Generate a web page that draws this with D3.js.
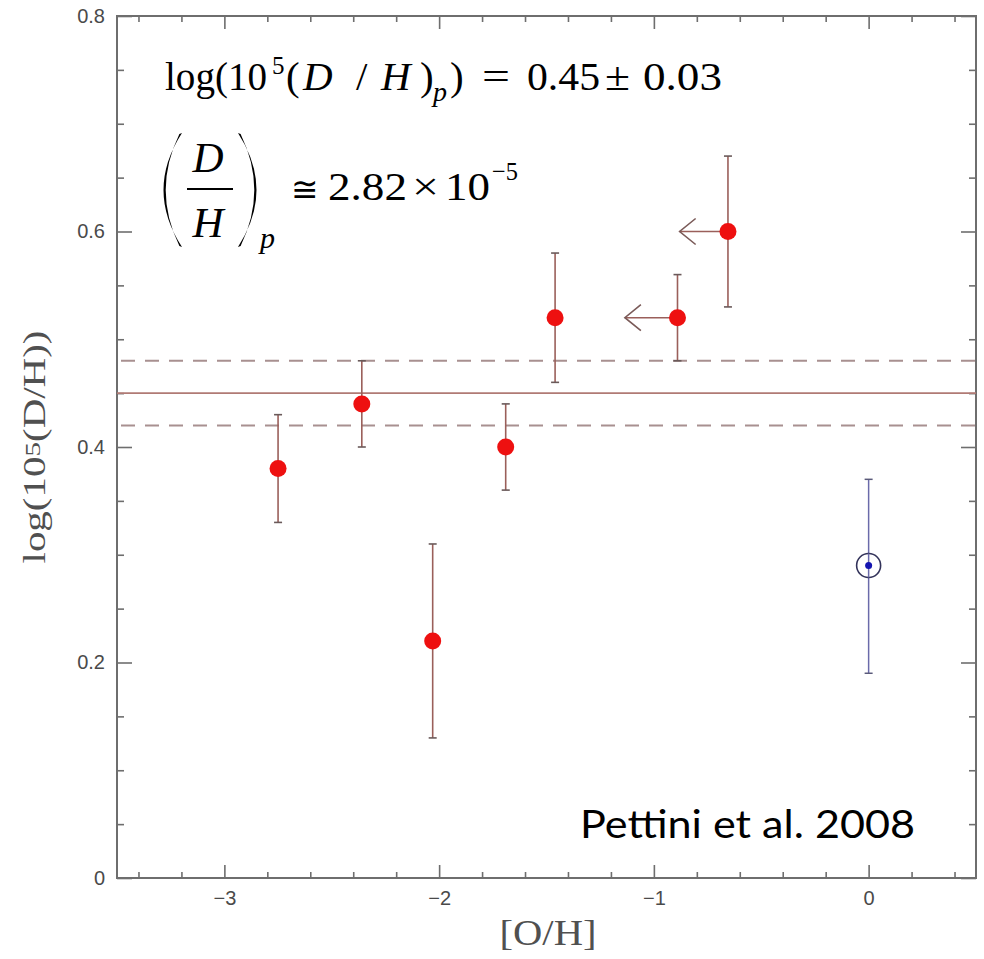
<!DOCTYPE html>
<html>
<head>
<meta charset="utf-8">
<script src="https://cdn.jsdelivr.net/npm/d3@7"></script>
<style>
  html, body { margin: 0; padding: 0; background: #fff; }
  svg { display: block; }
</style>
</head>
<body>
<svg id="chart" width="984" height="959"></svg>
<script>
// ---------------- data ----------------
const ohValues   = [-2.75, -2.36, -2.03, -1.69, -1.46, -0.89, -0.655];
const logDH      = [0.38, 0.44, 0.22, 0.40, 0.52, 0.52, 0.60];
const errLow     = [0.33, 0.40, 0.13, 0.36, 0.46, 0.48, 0.53];
const errHigh    = [0.43, 0.48, 0.31, 0.44, 0.58, 0.56, 0.67];
const limitTo    = [null, null, null, null, null, -1.135, -0.88];   // upper-limit arrows in [O/H]
const sunPoint   = [0.0, 0.29, 0.19, 0.37];                          // x, y, low, high
const meanLevel  = [0.45];
const meanBounds = [0.42, 0.48];
const xMajorTicks = [-3, -2, -1, 0];
const xMinorTicks = [-3.4,-3.2,-2.8,-2.6,-2.4,-2.2,-1.8,-1.6,-1.4,-1.2,-0.8,-0.6,-0.4,-0.2,0.2,0.4];
const yMajorTicks = [0, 0.2, 0.4, 0.6, 0.8];
const yMinorTicks = [0.05,0.1,0.15,0.25,0.3,0.35,0.45,0.5,0.55,0.65,0.7,0.75];

// ---------------- layout ----------------
const svg = d3.select("#chart");
const L = 117, R = 976, T = 16, B = 878;
const x = d3.scaleLinear().domain([-3.5, 0.5]).range([L, R]);
const y = d3.scaleLinear().domain([0, 0.8]).range([B, T]);

const axisColor = "#6e6e6e";
const tickFont = "'Liberation Sans', 'DejaVu Sans', sans-serif";

function styleAxis(g) {
  g.select(".domain").remove();
  g.selectAll(".tick line").attr("stroke", axisColor).attr("stroke-width", 1.6);
  g.selectAll(".tick text").attr("fill", "#4a4a4a").attr("font-family", tickFont).attr("font-size", 20);
}

// major/minor ticks on all four sides (inward)
svg.append("g").attr("transform", `translate(0,${B})`)
  .call(d3.axisBottom(x).tickValues(xMajorTicks).tickSizeInner(-13).tickSizeOuter(0).tickPadding(13).tickFormat(d3.format("d")))
  .call(styleAxis);
svg.append("g").attr("transform", `translate(0,${B})`)
  .call(d3.axisBottom(x).tickValues(xMinorTicks).tickSizeInner(-6).tickSizeOuter(0).tickFormat(""))
  .call(styleAxis);
svg.append("g").attr("transform", `translate(0,${T})`)
  .call(d3.axisTop(x).tickValues(xMajorTicks).tickSizeInner(-13).tickSizeOuter(0).tickFormat(""))
  .call(styleAxis);
svg.append("g").attr("transform", `translate(0,${T})`)
  .call(d3.axisTop(x).tickValues(xMinorTicks).tickSizeInner(-6).tickSizeOuter(0).tickFormat(""))
  .call(styleAxis);
svg.append("g").attr("transform", `translate(${L},0)`)
  .call(d3.axisLeft(y).tickValues(yMajorTicks).tickSizeInner(-15).tickSizeOuter(0).tickPadding(12)
        .tickFormat(d => d === 0 ? "0" : d3.format(".1f")(d)))
  .call(styleAxis);
svg.append("g").attr("transform", `translate(${L},0)`)
  .call(d3.axisLeft(y).tickValues(yMinorTicks).tickSizeInner(-7).tickSizeOuter(0).tickFormat(""))
  .call(styleAxis);
svg.append("g").attr("transform", `translate(${R},0)`)
  .call(d3.axisRight(y).tickValues(yMajorTicks).tickSizeInner(-15).tickSizeOuter(0).tickFormat(""))
  .call(styleAxis);
svg.append("g").attr("transform", `translate(${R},0)`)
  .call(d3.axisRight(y).tickValues(yMinorTicks).tickSizeInner(-7).tickSizeOuter(0).tickFormat(""))
  .call(styleAxis);

// frame
svg.append("rect").attr("x", L).attr("y", T).attr("width", R - L).attr("height", B - T)
  .attr("fill", "none").attr("stroke", axisColor).attr("stroke-width", 2);

// mean lines
svg.selectAll(".mean").data(meanLevel).enter().append("line")
  .attr("x1", L).attr("x2", R).attr("y1", d => y(d)).attr("y2", d => y(d))
  .attr("stroke", "#b07a74").attr("stroke-width", 1.6);
svg.selectAll(".bound").data(meanBounds).enter().append("line")
  .attr("x1", L + 4).attr("x2", R).attr("y1", d => y(d)).attr("y2", d => y(d))
  .attr("stroke", "#a89090").attr("stroke-width", 2).attr("stroke-dasharray", "14,10");

// data
const pts = ohValues.map((v, i) => ({ x: v, y: logDH[i], lo: errLow[i], hi: errHigh[i], lim: limitTo[i] }));
const errColor = "#9a5f5a";
const cap = 4;
const eg = svg.append("g");
pts.forEach(p => {
  eg.append("line").attr("x1", x(p.x)).attr("x2", x(p.x)).attr("y1", y(p.lo)).attr("y2", y(p.hi))
    .attr("stroke", errColor).attr("stroke-width", 1.6);
  [p.lo, p.hi].forEach(v => eg.append("line").attr("x1", x(p.x) - cap).attr("x2", x(p.x) + cap)
    .attr("y1", y(v)).attr("y2", y(v)).attr("stroke", "#6a5a5a").attr("stroke-width", 1.6));
  if (p.lim !== null) {
    const x0 = x(p.x), x1 = x(p.lim), yy = y(p.y);
    eg.append("line").attr("x1", x0).attr("x2", x1).attr("y1", yy).attr("y2", yy)
      .attr("stroke", errColor).attr("stroke-width", 1.6);
    eg.append("path").attr("d", `M${x1 + 16},${yy - 13} L${x1},${yy} L${x1 + 16},${yy + 13}`)
      .attr("fill", "none").attr("stroke", "#7a5a58").attr("stroke-width", 1.6);
  }
});
svg.selectAll(".dot").data(pts).enter().append("circle")
  .attr("cx", d => x(d.x)).attr("cy", d => y(d.y)).attr("r", 8.5).attr("fill", "#ee1010");

// sun
const sun = { x: sunPoint[0], y: sunPoint[1], lo: sunPoint[2], hi: sunPoint[3] };
svg.append("line").attr("x1", x(sun.x)).attr("x2", x(sun.x)).attr("y1", y(sun.lo)).attr("y2", y(sun.hi))
  .attr("stroke", "#6a6aaa").attr("stroke-width", 1.5);
[sun.lo, sun.hi].forEach(v => svg.append("line").attr("x1", x(sun.x) - cap).attr("x2", x(sun.x) + cap)
  .attr("y1", y(v)).attr("y2", y(v)).attr("stroke", "#5a5a7a").attr("stroke-width", 1.5));
svg.append("circle").attr("cx", x(sun.x)).attr("cy", y(sun.y)).attr("r", 12)
  .attr("fill", "#fff").attr("stroke", "#33335a").attr("stroke-width", 1.6);
svg.append("line").attr("x1", x(sun.x)).attr("x2", x(sun.x)).attr("y1", y(sun.y) - 12).attr("y2", y(sun.y) + 12)
  .attr("stroke", "#6a6aaa").attr("stroke-width", 1.5);
svg.append("circle").attr("cx", x(sun.x)).attr("cy", y(sun.y)).attr("r", 3.5).attr("fill", "#1515b0");

// axis titles
const serif = "'Liberation Serif', 'DejaVu Serif', serif";
svg.append("text").attr("x", 548).attr("y", 945).attr("text-anchor", "middle")
  .attr("font-family", serif).attr("font-size", 36).attr("fill", "#505050")
  .attr("textLength", 97).attr("lengthAdjust", "spacingAndGlyphs").text("[O/H]");
const yt = svg.append("text").attr("transform", "translate(45,447) rotate(-90)").attr("text-anchor", "middle")
  .attr("font-family", serif).attr("font-size", 31).attr("fill", "#505050")
  .attr("textLength", 233).attr("lengthAdjust", "spacingAndGlyphs");
yt.append("tspan").text("log(10");
yt.append("tspan").attr("font-size", 22).attr("dy", -5).text("5");
yt.append("tspan").attr("dy", 5).text("(D/H))");

// helper for math text pieces
function txt(xp, yp, s, size, italic, len) {
  const t = svg.append("text").attr("x", xp).attr("y", yp).attr("font-family", serif).attr("font-size", size)
    .attr("font-style", italic ? "italic" : "normal").attr("fill", "#000").text(s);
  if (len) t.attr("textLength", len).attr("lengthAdjust", "spacingAndGlyphs");
  return t;
}

// equation 1 : log(10^5 (D/H)_p) = 0.45 ± 0.03
txt(165, 90, "log(10", 41, false, 102);
txt(272, 74, "5", 25, false);
txt(286, 90, "(", 41, false);
txt(303, 90, "D", 41, true);
txt(356, 90, "/", 41, false);
txt(381, 90, "H", 41, true);
txt(420, 90, ")", 41, false);
txt(433, 101, "p", 28, true);
txt(450, 90, ")", 41, false);
txt(482, 90, "=", 41, false, 28);
txt(527, 90, "0.45", 41, false, 73);
txt(605, 90, "±", 41, false, 25);
txt(643, 90, "0.03", 41, false, 79);

// equation 2 : (D/H)_p ≅ 2.82×10^-5
function paren(x0, dir) {
  // crescent-shaped parenthesis, dir = +1 (left) or -1 (right)
  const top = 133, bot = 247, mid = (top + bot) / 2;
  return `M${x0},${top} Q${x0 - dir * 37},${mid} ${x0},${bot} L${x0 - dir * 2.6},${bot - 1} Q${x0 - dir * 30},${mid} ${x0 - dir * 2.6},${top + 1} Z`;
}
svg.append("path").attr("d", paren(182, 1)).attr("fill", "#000");
svg.append("path").attr("d", paren(238, -1)).attr("fill", "#000");
txt(208, 172, "D", 43, true).attr("text-anchor", "middle");
svg.append("line").attr("x1", 187).attr("x2", 233).attr("y1", 189).attr("y2", 189).attr("stroke", "#000").attr("stroke-width", 2);
txt(208, 237, "H", 43, true).attr("text-anchor", "middle");
txt(260, 248, "p", 30, true);
svg.append("text").attr("x", 291).attr("y", 201).attr("font-family", "'DejaVu Sans', sans-serif")
  .attr("font-weight", 200).attr("font-size", 34).attr("fill", "#000")
  .attr("textLength", 27).attr("lengthAdjust", "spacingAndGlyphs").text("≅");
txt(328, 200, "2.82", 41, false, 79);
txt(412, 200, "×", 41, false, 27);
txt(445, 200, "10", 41, false, 45);
txt(492, 180, "−5", 26, false, 26);

// citation
svg.append("text").attr("x", 580).attr("y", 838).attr("font-family", "Lato, 'Open Sans', sans-serif")
  .attr("font-size", 39).attr("fill", "#000").attr("textLength", 335).attr("lengthAdjust", "spacingAndGlyphs")
  .text("Pettini et al. 2008");
</script>
</body>
</html>
